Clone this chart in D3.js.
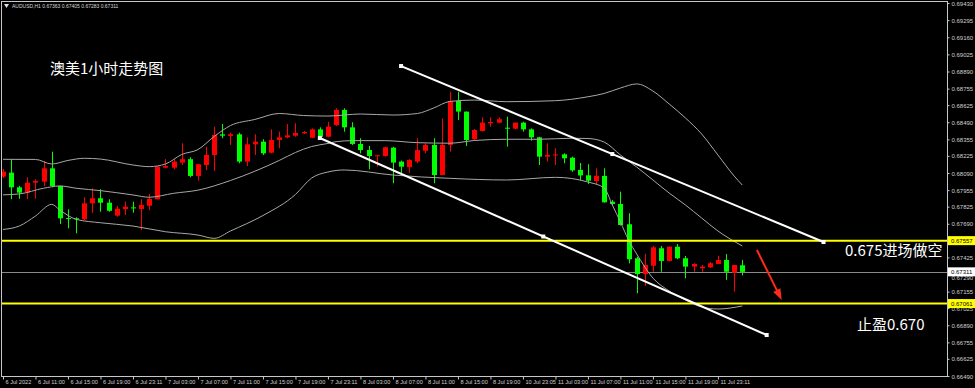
<!DOCTYPE html>
<html>
<head>
<meta charset="utf-8">
<script src="https://cdn.jsdelivr.net/npm/d3@7"></script>
<style>
body { margin: 0; background: #000; }
svg { display: block; }
</style>
</head>
<body>
<svg></svg>
<script>
const W = 975, H = 388;
const plot = {l: 2, r: 947, t: 2, b: 376};

// AUDUSD H1 candles (oldest -> newest)
const opens  = [0.68061,0.68093,0.67977,0.67935,0.68014,0.68022,0.68127,0.67988,0.67735,0.67733,0.67725,0.67851,0.67891,0.67856,0.67754,0.67806,0.67819,0.67806,0.67832,0.67883,0.68132,0.68132,0.68172,0.68199,0.68067,0.68153,0.68232,0.68395,0.68382,0.68395,0.68180,0.68316,0.68337,0.68250,0.68350,0.68371,0.68384,0.68403,0.68368,0.68434,0.68376,0.68468,0.68587,0.68450,0.68319,0.68271,0.68222,0.68224,0.68290,0.68180,0.68136,0.68180,0.68266,0.68311,0.68074,0.68311,0.68658,0.68574,0.68356,0.68421,0.68482,0.68487,0.68447,0.68439,0.68487,0.68434,0.68371,0.68219,0.68232,0.68237,0.68211,0.68114,0.68072,0.68027,0.68067,0.67864,0.67846,0.67686,0.67418,0.67294,0.67359,0.67497,0.67397,0.67509,0.67418,0.67352,0.67339,0.67347,0.67373,0.67404,0.67304,0.67363];
const highs  = [0.68122,0.68199,0.67988,0.68056,0.68040,0.68185,0.68258,0.67988,0.67804,0.67741,0.67898,0.67969,0.67962,0.67883,0.67830,0.67864,0.67864,0.67883,0.67925,0.68145,0.68199,0.68199,0.68324,0.68214,0.68161,0.68297,0.68455,0.68476,0.68408,0.68408,0.68371,0.68395,0.68356,0.68434,0.68416,0.68476,0.68482,0.68421,0.68442,0.68450,0.68494,0.68600,0.68600,0.68490,0.68364,0.68303,0.68232,0.68297,0.68297,0.68188,0.68199,0.68364,0.68324,0.68364,0.68521,0.68730,0.68730,0.68574,0.68437,0.68529,0.68529,0.68529,0.68534,0.68487,0.68494,0.68442,0.68376,0.68324,0.68285,0.68245,0.68219,0.68169,0.68159,0.68127,0.68127,0.67877,0.67943,0.67773,0.67430,0.67452,0.67515,0.67515,0.67511,0.67530,0.67436,0.67379,0.67365,0.67389,0.67438,0.67452,0.67365,0.67405];
const lows   = [0.68051,0.67883,0.67887,0.67883,0.67887,0.67988,0.67977,0.67688,0.67654,0.67615,0.67720,0.67777,0.67785,0.67785,0.67746,0.67759,0.67777,0.67641,0.67798,0.67883,0.68127,0.68119,0.68153,0.68056,0.68030,0.68114,0.68106,0.68364,0.68311,0.68167,0.68145,0.68232,0.68232,0.68245,0.68285,0.68364,0.68376,0.68398,0.68364,0.68364,0.68371,0.68461,0.68416,0.68311,0.68245,0.68119,0.68140,0.68219,0.68009,0.68082,0.68093,0.68167,0.68245,0.68009,0.68074,0.68258,0.68508,0.68303,0.68350,0.68416,0.68455,0.68482,0.68297,0.68434,0.68416,0.68345,0.68153,0.68180,0.68153,0.68167,0.68100,0.68032,0.68004,0.68000,0.67857,0.67838,0.67676,0.67378,0.67142,0.67200,0.67312,0.67312,0.67393,0.67410,0.67260,0.67312,0.67312,0.67342,0.67373,0.67247,0.67155,0.67283];
const closes = [0.68101,0.67977,0.67935,0.68014,0.68027,0.68127,0.67988,0.67733,0.67731,0.67725,0.67851,0.67891,0.67856,0.67792,0.67808,0.67824,0.67812,0.67838,0.67885,0.68140,0.68145,0.68180,0.68199,0.68067,0.68159,0.68232,0.68390,0.68384,0.68395,0.68180,0.68316,0.68337,0.68245,0.68350,0.68371,0.68387,0.68405,0.68413,0.68434,0.68376,0.68455,0.68587,0.68450,0.68319,0.68271,0.68224,0.68230,0.68293,0.68172,0.68140,0.68193,0.68271,0.68311,0.68074,0.68311,0.68658,0.68574,0.68350,0.68429,0.68487,0.68492,0.68514,0.68439,0.68487,0.68434,0.68371,0.68219,0.68232,0.68237,0.68206,0.68111,0.68071,0.68029,0.68068,0.67859,0.67846,0.67680,0.67410,0.67294,0.67365,0.67504,0.67397,0.67509,0.67418,0.67352,0.67373,0.67352,0.67379,0.67404,0.67312,0.67365,0.67311];

// Bollinger bands at these bar indices
const upperIdx = [0,4,6,8,10,12,16,18,20,22,24,26,28,31,34,37,40,44,48,51,53,55,58,62,68,72,74,76,78,80,82,84,86,88,90,91];
const upperVal = [0.68198,0.68197,0.68161,0.68189,0.68206,0.68200,0.68153,0.68140,0.68161,0.68236,0.68275,0.68378,0.68464,0.68512,0.68559,0.68543,0.68539,0.68555,0.68547,0.68559,0.68602,0.68654,0.68665,0.68652,0.68660,0.68691,0.68717,0.68760,0.68792,0.68736,0.68634,0.68524,0.68397,0.68232,0.68066,0.67995];
const middleIdx = [0,2,5,7,9,12,16,18,21,24,28,31,34,36,38,40,41,43,47,51,55,58,62,66,70,72,74,76,78,80,82,84,86,88,91];
const middleVal = [0.67918,0.67925,0.67970,0.67988,0.67970,0.67951,0.67917,0.67899,0.67930,0.67955,0.68031,0.68104,0.68189,0.68252,0.68299,0.68323,0.68337,0.68345,0.68345,0.68329,0.68325,0.68346,0.68356,0.68356,0.68364,0.68362,0.68334,0.68232,0.68137,0.68035,0.67932,0.67838,0.67735,0.67633,0.67515];
const lowerIdx = [0,2,4,6,7,9,12,16,20,24,26,28,32,36,38,40,42,48,55,62,68,72,74,75,76,77,78,80,82,84,86,88,91];
const lowerVal = [0.67645,0.67672,0.67751,0.67843,0.67798,0.67725,0.67698,0.67672,0.67627,0.67601,0.67575,0.67633,0.67755,0.67921,0.68051,0.68098,0.68114,0.68074,0.68048,0.68035,0.68056,0.68019,0.67972,0.67838,0.67704,0.67562,0.67452,0.67262,0.67160,0.67089,0.67034,0.67018,0.67042];

const timeLabels = ["6 Jul 2022","6 Jul 11:00","6 Jul 15:00","6 Jul 19:00","6 Jul 23:11","7 Jul 03:00","7 Jul 07:00","7 Jul 11:00","7 Jul 15:00","7 Jul 19:00","7 Jul 23:11","8 Jul 03:00","8 Jul 07:00","8 Jul 11:00","8 Jul 15:00","8 Jul 19:00","10 Jul 23:05","11 Jul 03:00","11 Jul 07:00","11 Jul 11:00","11 Jul 15:00","11 Jul 19:00","11 Jul 23:11"];
const priceTicks = [0.69430,0.69295,0.69160,0.69025,0.68890,0.68755,0.68625,0.68490,0.68355,0.68225,0.68090,0.67955,0.67825,0.67690,0.67425,0.67290,0.67155,0.67025,0.66890,0.66755,0.66625,0.66490];

// drawn objects: [bar index, price]
const channelUpper = [[49, 0.68933], [101, 0.67546]];
const channelLower = [[39, 0.68366], [94, 0.66813]];
const levels = [0.67557, 0.67061];
const bid = 0.67311;
const arrowLine = [[92.8, 0.67483], [95.85, 0.67089]];

const svg = d3.select('svg').attr('width', W).attr('height', H);

const x = d3.scaleLinear().domain([0, 91]).range([3, 742.3]);
const y = d3.scaleLinear().domain([0.66490, 0.69430]).range([plot.b, plot.t + 1]);

svg.append('defs').append('clipPath').attr('id', 'clip')
  .append('rect').attr('x', plot.l).attr('y', plot.t)
  .attr('width', plot.r - plot.l).attr('height', plot.b - plot.t);

const g = svg.append('g').attr('clip-path', 'url(#clip)');

// bid line
g.append('line')
  .attr('x1', plot.l).attr('x2', plot.r)
  .attr('y1', Math.round(y(bid)) + 0.5).attr('y2', Math.round(y(bid)) + 0.5)
  .attr('stroke', '#8a8a8a').attr('stroke-width', 1);

// candles
const candles = opens.map((o, i) => ({i, o, h: highs[i], l: lows[i], c: closes[i]}));
const col = d => d.c >= d.o ? '#ff0000' : '#00ff00';

const cg = g.selectAll('.candle').data(candles).enter().append('g').attr('class', 'candle');
cg.append('line')
  .attr('x1', d => Math.round(x(d.i)) + 0.5).attr('x2', d => Math.round(x(d.i)) + 0.5)
  .attr('y1', d => y(d.h)).attr('y2', d => y(d.l))
  .attr('stroke', col).attr('stroke-width', 1);
cg.append('rect')
  .attr('x', d => Math.round(x(d.i)) - 2)
  .attr('width', 5)
  .attr('y', d => y(Math.max(d.o, d.c)))
  .attr('height', d => Math.max(1, Math.abs(y(d.o) - y(d.c))))
  .attr('fill', col);

// bollinger bands
const bandLine = d3.line().x(d => x(d[0])).y(d => y(d[1])).curve(d3.curveMonotoneX);
[[upperIdx, upperVal], [middleIdx, middleVal], [lowerIdx, lowerVal]].forEach(b => {
  g.append('path')
    .attr('d', bandLine(b[0].map((v, k) => [v, b[1][k]])))
    .attr('fill', 'none').attr('stroke', '#a8a8a8').attr('stroke-width', 1);
});

// horizontal levels
levels.forEach(p => {
  g.append('line')
    .attr('x1', plot.l).attr('x2', plot.r)
    .attr('y1', y(p)).attr('y2', y(p))
    .attr('stroke', '#ffff00').attr('stroke-width', 2);
});

// channel lines
[channelUpper, channelLower].forEach(ch => {
  g.append('line')
    .attr('x1', x(ch[0][0])).attr('y1', y(ch[0][1]))
    .attr('x2', x(ch[1][0])).attr('y2', y(ch[1][1]))
    .attr('stroke', '#ffffff').attr('stroke-width', 2);
  const pts = [ch[0], [(ch[0][0] + ch[1][0]) / 2, (ch[0][1] + ch[1][1]) / 2], ch[1]];
  g.selectAll(null).data(pts).enter().append('rect')
    .attr('x', d => x(d[0]) - 2).attr('y', d => y(d[1]) - 2)
    .attr('width', 4).attr('height', 4).attr('fill', '#ffffff');
});

// red arrow
const ax1 = x(arrowLine[0][0]), ay1 = y(arrowLine[0][1]);
const ax2 = x(arrowLine[1][0]), ay2 = y(arrowLine[1][1]);
const ang = Math.atan2(ay2 - ay1, ax2 - ax1);
g.append('line')
  .attr('x1', ax1).attr('y1', ay1)
  .attr('x2', ax2 - 8 * Math.cos(ang)).attr('y2', ay2 - 8 * Math.sin(ang))
  .attr('stroke', '#ff2a1a').attr('stroke-width', 2);
const hw = 4, hl = 11;
g.append('path')
  .attr('d', `M${ax2},${ay2}` +
    `L${ax2 - hl * Math.cos(ang) + hw * Math.sin(ang)},${ay2 - hl * Math.sin(ang) - hw * Math.cos(ang)}` +
    `L${ax2 - hl * Math.cos(ang) - hw * Math.sin(ang)},${ay2 - hl * Math.sin(ang) + hw * Math.cos(ang)}Z`)
  .attr('fill', '#ff2a1a');

// frame
svg.append('rect')
  .attr('x', plot.l - 0.5).attr('y', plot.t - 0.5)
  .attr('width', plot.r - plot.l + 1).attr('height', plot.b - plot.t + 1)
  .attr('fill', 'none').attr('stroke', '#c8c8c8').attr('stroke-width', 1);

// price axis (the label right under the bid tag is left out, the tag hides it)
const yAxis = svg.append('g')
  .attr('transform', `translate(${plot.r + 0.5},0)`)
  .call(d3.axisRight(y).tickValues(priceTicks).tickSize(2).tickSizeOuter(0).tickFormat(d3.format('.5f')));
yAxis.select('.domain').remove();
yAxis.selectAll('line').attr('stroke', '#c8c8c8');
yAxis.selectAll('text')
  .attr('x', 4).attr('dy', '0.35em')
  .attr('fill', '#d0d0d0').attr('font-size', 6).attr('font-family', 'Liberation Sans, Arial, sans-serif');
yAxis.selectAll('.tick').filter(d => Math.abs(d - bid) < 0.0005).select('text').attr('dy', '0.9em');

// time axis
const xAxis = svg.append('g')
  .attr('transform', `translate(0,${plot.b + 0.5})`)
  .call(d3.axisBottom(x).tickValues(timeLabels.map((t, k) => k * 4)).tickSize(3).tickSizeOuter(0)
    .tickFormat((d, k) => timeLabels[k]));
xAxis.select('.domain').remove();
xAxis.selectAll('line').attr('stroke', '#c8c8c8');
xAxis.selectAll('text')
  .attr('text-anchor', 'start').attr('x', 2).attr('y', 4).attr('dy', '0.71em')
  .attr('fill', '#d0d0d0').attr('font-size', 5.6).attr('font-family', 'Liberation Sans, Arial, sans-serif');

// price tags on the axis
function tag(p, bg) {
  const t = svg.append('g').attr('transform', `translate(${plot.r + 1},${y(p)})`);
  t.append('rect').attr('x', 0).attr('y', -4.5).attr('width', 27).attr('height', 9).attr('fill', bg);
  t.append('text').attr('x', 3).attr('dy', '0.35em').text(d3.format('.5f')(p))
    .attr('fill', '#000').attr('font-size', 6).attr('font-family', 'Liberation Sans, Arial, sans-serif');
}
levels.forEach(p => tag(p, '#ffff00'));
tag(bid, '#ffffff');

// header
svg.append('path').attr('d', 'M4,4L9,4L6.5,8Z').attr('fill', '#e0e0e0');
svg.append('text').attr('x', 12).attr('y', 8)
  .text('AUDUSD,H1 0.67363 0.67405 0.67283 0.67311')
  .attr('fill', '#d8d8d8').attr('font-size', 5).attr('font-family', 'Liberation Sans, Arial, sans-serif');

// notes
const cjk = '"Noto Sans CJK SC", "Noto Sans", sans-serif';
svg.append('text').attr('x', 50).attr('y', 74).text('澳美1小时走势图')
  .attr('fill', '#ffffff').attr('font-size', 15).attr('font-family', cjk);
svg.append('text').attr('x', 845).attr('y', 256).text('0.675进场做空')
  .attr('fill', '#ffffff').attr('font-size', 15).attr('font-family', cjk);
svg.append('text').attr('x', 857).attr('y', 330).text('止盈0.670')
  .attr('fill', '#ffffff').attr('font-size', 15).attr('font-family', cjk);
</script>
</body>
</html>
